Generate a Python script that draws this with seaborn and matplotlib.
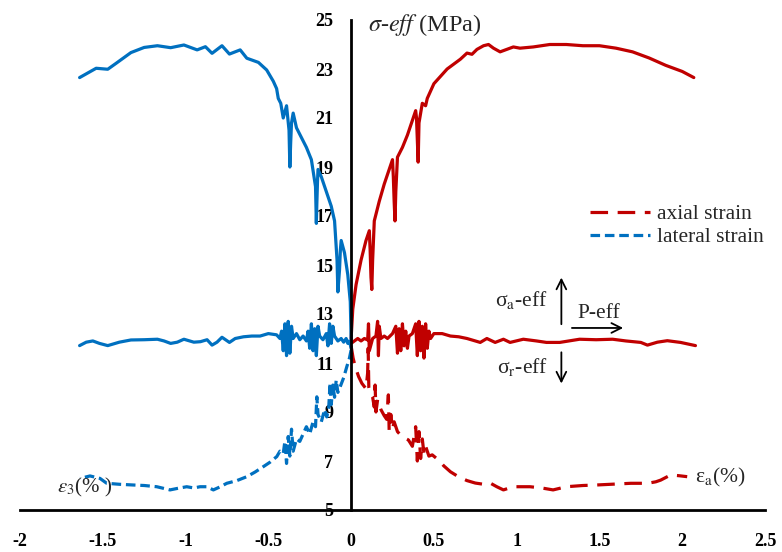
import matplotlib
matplotlib.use("Agg")
import matplotlib.pyplot as plt
import pandas as pd
import seaborn as sns

# axial side (red): sigma_a-eff, P-eff, sigma_r-eff vs axial strain
ax_up_x = [0, 0.01, 0.03, 0.06, 0.09, 0.11, 0.115, 0.12, 0.125, 0.13, 0.14, 0.17, 0.2, 0.23, 0.25, 0.255,
           0.26, 0.265, 0.27, 0.28, 0.31, 0.34, 0.37, 0.39, 0.395, 0.40, 0.405, 0.41, 0.43, 0.45, 0.46,
           0.48, 0.5, 0.54, 0.58, 0.62, 0.66, 0.7, 0.73, 0.76, 0.8, 0.83, 0.86, 0.9, 0.94, 0.98, 1.02,
           1.1, 1.2, 1.3, 1.4, 1.5, 1.6, 1.7, 1.8, 1.9, 2.0, 2.07]
ax_up_y = [12.0, 13.2, 14.2, 15.2, 16.0, 16.4, 15.6, 14.5, 14.0, 15.2, 16.8, 17.6, 18.3, 18.9, 19.3, 18.6,
           17.6, 16.8, 18.0, 19.4, 19.8, 20.3, 20.9, 21.3, 21.0, 20.1, 19.2, 20.8, 21.6, 21.5, 21.8,
           22.1, 22.4, 22.7, 23.0, 23.2, 23.4, 23.65, 23.6, 23.8, 23.95, 24.0, 23.85, 23.7, 23.8, 23.9, 23.85,
           23.9, 24.0, 24.0, 23.95, 23.95, 23.85, 23.7, 23.45, 23.15, 22.9, 22.65]

ax_mid_x = [0, 0.02, 0.04, 0.06, 0.08, 0.1, 0.105, 0.11, 0.13, 0.15, 0.16, 0.165, 0.17, 0.18, 0.2, 0.22,
            0.25, 0.27, 0.28, 0.29, 0.3, 0.31, 0.32, 0.33, 0.34, 0.35, 0.37, 0.39, 0.4, 0.41, 0.42, 0.43,
            0.44, 0.45, 0.46, 0.47, 0.48, 0.5, 0.55, 0.6, 0.65, 0.7, 0.73, 0.78, 0.82, 0.87, 0.92, 0.96,
            1.04, 1.12, 1.18, 1.26, 1.38, 1.48, 1.58, 1.66, 1.75, 1.79, 1.85, 1.91, 1.99, 2.08]
ax_mid_y = [11.8, 11.9, 12.0, 11.9, 12.0, 11.94, 12.6, 11.5, 12.0, 12.1, 12.7, 11.3, 12.5, 12.0, 12.1, 12.0,
            12.2, 12.5, 11.4, 12.4, 11.5, 12.6, 11.7, 12.3, 11.6, 12.1, 12.2, 12.6, 11.3, 12.7, 11.5, 12.5,
            11.2, 12.6, 11.6, 12.3, 12.0, 12.2, 12.2, 12.1, 12.07, 12.0, 11.94, 11.84, 12.0, 11.84, 11.97, 11.84,
            11.97, 11.9, 11.84, 11.84, 11.97, 11.95, 11.97, 11.9, 11.84, 11.73, 11.85, 11.91, 11.84, 11.71]

ax_low_x = [0, 0.012, 0.025, 0.045, 0.065, 0.09, 0.1, 0.103, 0.107, 0.115, 0.13, 0.14, 0.145, 0.15, 0.16,
            0.165, 0.18, 0.2, 0.215, 0.225, 0.23, 0.24, 0.25, 0.26, 0.28, 0.3, 0.32, 0.346, 0.37, 0.39, 0.40,
            0.41, 0.42, 0.43, 0.44, 0.45, 0.47, 0.49, 0.528, 0.56, 0.6, 0.65, 0.7, 0.75, 0.8, 0.84, 0.88,
            0.92, 0.98, 1.08, 1.15, 1.22, 1.3, 1.4, 1.48, 1.6, 1.69, 1.79, 1.84, 1.87, 1.93, 1.98, 2.03]
ax_low_y = [11.7, 11.2, 10.85, 10.45, 10.17, 9.95, 10.6, 11.6, 10.0, 9.76, 9.6, 9.2, 10.1, 9.0, 9.5,
            9.36, 9.1, 8.85, 8.7, 9.7, 8.2, 8.9, 8.3, 8.6, 8.2, 8.05, 7.95, 7.86, 7.6, 8.4, 7.0,
            8.2, 7.1, 7.9, 7.3, 7.6, 7.2, 7.25, 7.04, 6.8, 6.56, 6.35, 6.2, 6.1, 6.05, 6.1, 5.95,
            5.82, 5.95, 5.95, 5.9, 5.82, 5.95, 6.0, 6.02, 6.06, 6.09, 6.09, 6.15, 6.22, 6.43, 6.4, 6.36]

# lateral side (blue)
lat_up_x = [0, -0.005, -0.02, -0.04, -0.06, -0.065, -0.07, -0.08, -0.085, -0.1, -0.12, -0.15, -0.18, -0.2,
            -0.203, -0.207, -0.21, -0.215, -0.24, -0.27, -0.3, -0.33, -0.35, -0.36, -0.365, -0.37, -0.375,
            -0.39, -0.41, -0.425, -0.44, -0.45, -0.47, -0.51, -0.56, -0.63, -0.67, -0.735, -0.78, -0.84,
            -0.88, -0.93, -1.01, -1.09, -1.17, -1.25, -1.33, -1.42, -1.47, -1.54, -1.64]
lat_up_y = [12.0, 13.5, 14.6, 15.5, 16.0, 15.6, 14.8, 13.9, 15.2, 16.8, 17.4, 18.0, 18.6, 18.9,
            18.4, 17.5, 16.7, 18.2, 19.3, 19.8, 20.2, 20.6, 21.2, 20.8, 20.0, 19.0, 20.5,
            21.5, 21.0, 21.6, 21.8, 22.2, 22.5, 22.96, 23.27, 23.44, 23.78, 23.61, 23.95, 23.64,
            23.91, 23.78, 23.98, 23.87, 23.95, 23.88, 23.67, 23.23, 22.99, 23.03, 22.65]

lat_mid_x = [0, -0.01, -0.02, -0.03, -0.045, -0.06, -0.08, -0.1, -0.11, -0.12, -0.13, -0.14, -0.15, -0.17,
             -0.19, -0.2, -0.21, -0.22, -0.23, -0.24, -0.25, -0.26, -0.27, -0.29, -0.31, -0.33, -0.35,
             -0.36, -0.37, -0.38, -0.39, -0.40, -0.41, -0.42, -0.43, -0.45, -0.5, -0.55, -0.6, -0.65,
             -0.7, -0.735, -0.78, -0.81, -0.84, -0.87, -0.91, -0.95, -1.01, -1.05, -1.09, -1.13, -1.17,
             -1.25, -1.33, -1.4, -1.47, -1.52, -1.56, -1.6, -1.64]
lat_mid_y = [11.6, 11.9, 11.8, 12.0, 11.85, 12.0, 11.9, 12.1, 12.5, 11.8, 12.6, 11.7, 12.2, 11.95,
             12.1, 12.5, 11.3, 12.4, 11.5, 12.6, 11.6, 12.3, 11.9, 12.1, 11.95, 12.2, 12.0,
             12.5, 11.4, 12.7, 11.3, 12.6, 11.5, 12.3, 12.0, 12.15, 12.2, 12.1, 12.1, 12.07,
             12.0, 11.84, 12.05, 11.85, 11.73, 11.95, 11.87, 11.85, 11.97, 11.85, 11.8, 11.9, 11.97,
             11.95, 11.94, 11.85, 11.71, 11.8, 11.9, 11.85, 11.71]

lat_low_x = [0, -0.01, -0.026, -0.045, -0.066, -0.08, -0.09, -0.1, -0.11, -0.12, -0.127, -0.135, -0.147,
             -0.16, -0.18, -0.2, -0.207, -0.215, -0.23, -0.25, -0.27, -0.288, -0.31, -0.33, -0.35, -0.36,
             -0.37, -0.38, -0.39, -0.40, -0.41, -0.43, -0.449, -0.49, -0.53, -0.58, -0.63, -0.69, -0.751,
             -0.79, -0.832, -0.872, -0.912, -0.95, -0.993, -1.05, -1.094, -1.174, -1.25, -1.315, -1.4,
             -1.476, -1.517, -1.577, -1.637]
lat_low_y = [11.53, 11.2, 10.85, 10.4, 10.03, 9.8, 10.3, 9.6, 10.1, 9.3, 10.18, 9.2, 8.8,
             9.1, 8.6, 8.9, 9.62, 8.4, 8.6, 8.1, 8.4, 8.13, 7.8, 7.9, 7.4, 8.3,
             7.2, 8.0, 6.9, 7.8, 7.3, 7.4, 7.18, 6.95, 6.77, 6.55, 6.36, 6.2, 6.09,
             5.95, 5.82, 5.95, 5.95, 5.9, 5.95, 5.88, 5.82, 5.95, 6.0, 6.02, 6.05,
             6.09, 6.29, 6.39, 6.29]

x_ticks = [-2, -1.5, -1, -0.5, 0, 0.5, 1, 1.5, 2, 2.5]
x_labels = ["-2", "-1.5", "-1", "-0.5", "0", "0.5", "1", "1.5", "2", "2.5"]
y_ticks = [5, 7, 9, 11, 13, 15, 17, 19, 21, 23, 25]

red = "#C00000"
blue = "#0070C0"

sns.set_style("white")
plt.rcParams["font.family"] = ["Liberation Serif", "DejaVu Serif"]
plt.rcParams["mathtext.fontset"] = "stix"
plt.rcParams["axes.unicode_minus"] = False

fig = plt.figure(figsize=(7.82, 5.52), dpi=100)
ax = fig.add_axes([20 / 782, 1 - 510 / 552, 745 / 782, 490 / 552])

lw = 2.3
red_dash = (0, (5.5, 3))
blue_dash = (0, (3, 1.5))

def draw(xs, ys, color, ls="-", label=None):
    df = pd.DataFrame({"x": xs, "y": ys})
    sns.lineplot(data=df, x="x", y="y", sort=False, estimator=None, color=color,
                 lw=lw, linestyle=ls, ax=ax, label=label, legend=False)

draw(ax_up_x, ax_up_y, red)
draw(ax_mid_x, ax_mid_y, red)
draw(ax_low_x, ax_low_y, red, red_dash, "axial strain")
draw(lat_up_x, lat_up_y, blue)
draw(lat_mid_x, lat_mid_y, blue)
draw(lat_low_x, lat_low_y, blue, blue_dash, "lateral strain")

ax.set_xlim(-2, 2.5)
ax.set_ylim(5, 25)
ax.set_xticks(x_ticks)
ax.set_xticklabels(x_labels)
ax.set_yticks(y_ticks)
ax.set_xlabel("")
ax.set_ylabel("")

for s in ["top", "right"]:
    ax.spines[s].set_visible(False)
ax.spines["left"].set_position(("data", 0))
for s in ["left", "bottom"]:
    ax.spines[s].set_linewidth(2)
    ax.spines[s].set_color("black")
ax.tick_params(axis="both", direction="in", length=4.5, width=1.6, colors="black")
ax.tick_params(axis="x", pad=16.5, labelsize=13)
ax.tick_params(axis="y", pad=13, labelsize=13)
for t in ax.get_xticklabels() + ax.get_yticklabels():
    t.set_fontweight("bold")

# axis title
ax.text(0.103, 24.8, r"$\sigma$-$\mathit{eff}$ (MPa)", fontsize=17.5, va="center", ha="left")

# stress direction annotations
arr = dict(arrowstyle="->,head_length=0.7,head_width=0.35", color="black", lw=1.3)
ax.annotate("", xy=(1.27, 14.6), xytext=(1.27, 12.47), arrowprops=arr)
ax.annotate("", xy=(1.27, 10.05), xytext=(1.27, 11.55), arrowprops=arr)
ax.annotate("", xy=(1.66, 12.43), xytext=(1.317, 12.43), arrowprops=arr)
ax.text(1.19, 13.57, "σ$_\\mathrm{a}$-eff", fontsize=15.5, ha="right", va="center")
ax.text(1.19, 10.84, "σ$_\\mathrm{r}$-eff", fontsize=15.5, ha="right", va="center")
ax.text(1.366, 13.0, "P-eff", fontsize=15.5, ha="left", va="center")
ax.text(2.08, 6.31, "ε$_\\mathrm{a}$(%)", fontsize=15.5, ha="left", va="center")
ax.text(-1.776, 5.9, r"$\varepsilon_\mathrm{3}$(% )", fontsize=15, ha="left", va="center")

leg = ax.legend(loc="upper left", bbox_to_anchor=(590 / 782, 1 - 204 / 552),
                bbox_transform=fig.transFigure, frameon=False, fontsize=15.5,
                handlelength=2.8, handletextpad=0.3, labelspacing=0.15,
                borderpad=0, borderaxespad=0)

fig.savefig("out.png", dpi=100)
